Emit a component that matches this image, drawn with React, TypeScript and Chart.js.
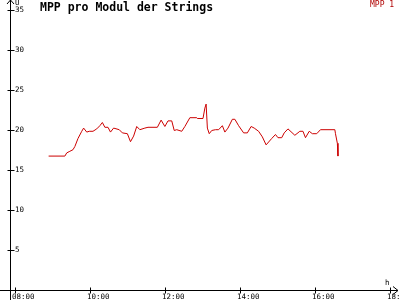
import React, { useEffect, useRef } from 'react';
import { Chart, registerables } from 'chart.js';

Chart.register(...registerables);

const TITLE = 'MPP pro Modul der Strings';
const SERIES_LABEL = 'MPP 1';
const X_UNIT = 'h';
const Y_UNIT = 'U';

const times = [
  '08:53', '09:19', '09:22', '09:27', '09:32', '09:35', '09:40', '09:46', '09:49', '09:54',
  '09:58', '10:04', '10:10', '10:15', '10:19', '10:23', '10:28', '10:32', '10:37', '10:46',
  '10:51', '10:59', '11:04', '11:09', '11:14', '11:19', '11:27', '11:32', '11:47', '11:53',
  '11:59', '12:04', '12:10', '12:14', '12:18', '12:26', '12:31', '12:39', '12:50', '12:51',
  '13:00', '13:03', '13:05', '13:07', '13:10', '13:14', '13:20', '13:25', '13:31', '13:35',
  '13:40', '13:47', '13:51', '13:57', '14:05', '14:11', '14:17', '14:22', '14:29', '14:35',
  '14:41', '14:50', '14:56', '15:00', '15:06', '15:10', '15:16', '15:27', '15:35', '15:40',
  '15:44', '15:50', '15:55', '16:02', '16:08', '16:31', '16:32', '16:35', '16:36',
];

const values = [
  16.8, 16.8, 17.2, 17.4, 17.6, 18.0, 19.0, 19.9, 20.3, 19.8,
  19.9, 19.9, 20.2, 20.6, 21.0, 20.4, 20.4, 19.8, 20.3, 20.1,
  19.7, 19.6, 18.6, 19.3, 20.5, 20.1, 20.3, 20.4, 20.4, 21.3,
  20.5, 21.2, 21.2, 20.0, 20.1, 19.9, 20.5, 21.6, 21.6, 21.5,
  21.5, 22.8, 23.3, 20.3, 19.6, 20.0, 20.1, 20.1, 20.6, 19.8,
  20.3, 21.4, 21.4, 20.6, 19.7, 19.7, 20.5, 20.3, 19.9, 19.2,
  18.2, 19.0, 19.5, 19.1, 19.1, 19.7, 20.2, 19.4, 19.9, 19.9,
  19.1, 19.9, 19.6, 19.6, 20.1, 20.1, 19.6, 18.4, 16.8,
];

const xTickHours = [8, 10, 12, 14, 16, 18];
const yTickValues = [5, 10, 15, 20, 25, 30, 35];

const X_MIN = 7.8667;
const X_MAX = 18.166;
const Y_MIN = 0;
const Y_MAX = 36.31;

const LINE_COLOR = '#cc0000';
const LEGEND_COLOR = '#b00000';
const TICK_FONT = { family: "'DejaVu Sans Mono', monospace", size: 7.5 };

function toHours(t: string): number {
  const [h, m] = t.split(':').map(Number);
  return h + m / 60;
}

const decorPlugin = {
  id: 'decor',
  beforeDatasetsDraw(chart: any) {
    const { ctx, scales } = chart;
    const xs = scales.x;
    const ys = scales.y;
    const ax = xs.left;
    const ay = ys.getPixelForValue(Y_MIN);
    const axX = Math.round(ax - 0.5) + 0.5;
    const axY = Math.round(ay - 0.5) + 0.5;
    ctx.save();
    ctx.strokeStyle = '#000';
    ctx.lineWidth = 1;
    ctx.beginPath();
    // x axis
    ctx.moveTo(0, axY);
    ctx.lineTo(398, axY);
    // arrow right
    ctx.moveTo(393, axY - 4);
    ctx.lineTo(398, axY);
    ctx.lineTo(393, axY + 4);
    // y axis
    ctx.moveTo(axX, 300);
    ctx.lineTo(axX, 0);
    // arrow top
    ctx.moveTo(axX - 3.5, 4);
    ctx.lineTo(axX, 0);
    ctx.lineTo(axX + 3.5, 4);
    // x ticks
    xs.ticks.forEach((t: any) => {
      const px = Math.round(xs.getPixelForValue(t.value) - 0.5) + 0.5;
      ctx.moveTo(px, axY - 3);
      ctx.lineTo(px, axY + 3);
    });
    // y ticks
    ys.ticks.forEach((t: any) => {
      const py = Math.round(ys.getPixelForValue(t.value) - 0.5) + 0.5;
      ctx.moveTo(axX - 3, py);
      ctx.lineTo(axX + 4, py);
    });
    ctx.stroke();
    ctx.restore();
  },
  afterDraw(chart: any) {
    const { ctx, scales } = chart;
    ctx.save();
    ctx.fillStyle = '#000';
    ctx.textBaseline = 'alphabetic';
    ctx.textAlign = 'left';
    ctx.font = "bold 11.5px 'DejaVu Sans Mono', monospace";
    ctx.fillText(TITLE, 40, 11);
    ctx.font = "8px 'DejaVu Sans Mono', monospace";
    ctx.fillStyle = LEGEND_COLOR;
    ctx.fillText(chart.data.datasets[0].label, 370, 7);
    ctx.fillStyle = '#000';
    ctx.font = "7.5px 'DejaVu Sans Mono', monospace";
    ctx.fillText(X_UNIT, 385, 284.5);
    ctx.fillText(Y_UNIT, scales.x.left + 4.5, 4.5);
    ctx.restore();
  },
};

export default function App() {
  const canvasRef = useRef<HTMLCanvasElement | null>(null);

  useEffect(() => {
    const canvas = canvasRef.current;
    if (!canvas) return;
    const points = times.map((t, i) => ({ x: toHours(t), y: values[i] }));
    const chart = new Chart(canvas, {
      type: 'line',
      data: {
        datasets: [
          {
            label: SERIES_LABEL,
            data: points,
            borderColor: LINE_COLOR,
            backgroundColor: LINE_COLOR,
            borderWidth: 1,
            pointRadius: 0,
            tension: 0,
            fill: false,
          },
        ],
      },
      options: {
        animation: false,
        responsive: false,
        maintainAspectRatio: false,
        devicePixelRatio: 1,
        layout: { padding: { left: 10.5, right: 3.3, top: 0, bottom: 0 } },
        plugins: {
          legend: { display: false },
          title: { display: false },
          tooltip: { enabled: false },
        },
        scales: {
          x: {
            type: 'linear',
            min: X_MIN,
            max: X_MAX,
            grid: { display: false, drawTicks: false },
            border: { display: false },
            afterBuildTicks: (s: any) => {
              s.ticks = xTickHours.map((v) => ({ value: v }));
            },
            afterFit: (s: any) => {
              s.height = 9.5;
              s.paddingLeft = 0;
              s.paddingRight = 0;
            },
            ticks: {
              autoSkip: false,
              maxRotation: 0,
              minRotation: 0,
              align: 'start',
              labelOffset: -3.5,
              padding: 2,
              color: '#000',
              font: TICK_FONT,
              callback: (v: any) => String(v).padStart(2, '0') + ':00',
            },
          },
          y: {
            type: 'linear',
            min: Y_MIN,
            max: Y_MAX,
            grid: { display: false, drawTicks: false },
            border: { display: false },
            afterBuildTicks: (s: any) => {
              s.ticks = yTickValues.map((v) => ({ value: v }));
            },
            afterFit: (s: any) => {
              s.width = 0;
              s.paddingTop = 0;
              s.paddingBottom = 0;
            },
            ticks: {
              mirror: true,
              padding: 4.5,
              color: '#000',
              font: TICK_FONT,
              callback: (v: any) => String(v),
            },
          },
        },
      },
      plugins: [decorPlugin],
    });
    return () => chart.destroy();
  }, []);

  return (
    <div style={{ position: 'fixed', left: 0, top: 0, width: 400, height: 300, background: '#fff' }}>
      <canvas ref={canvasRef} width={400} height={300} style={{ width: 400, height: 300, display: 'block' }} />
    </div>
  );
}
